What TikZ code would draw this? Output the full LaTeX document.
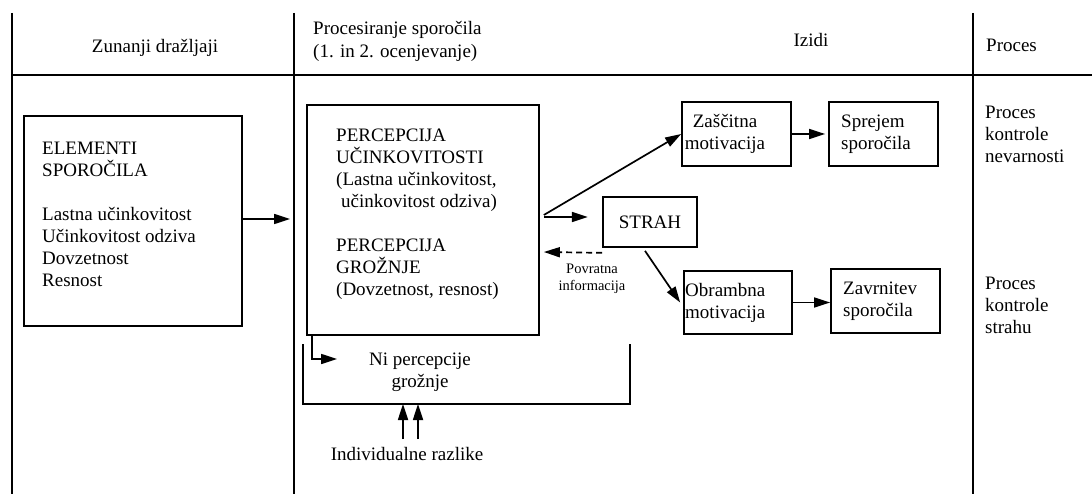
\documentclass[tikz,border=0pt]{standalone}
\usepackage{fontspec}
\setmainfont{Liberation Serif}
\usetikzlibrary{arrows.meta,calc}
\newcommand\bodyfont{\fontsize{19}{22}\selectfont}
\newcommand\smallfont{\fontsize{14.5}{17}\selectfont}
\begin{document}
\begin{tikzpicture}[x=1pt, y=-1pt, boxStyle/.style={rectangle, draw, line width=1.7pt, inner sep=0pt}, textStyle/.style={font=\bodyfont, align=left, inner sep=0pt}, arrowStyle/.style={-{Triangle[length=16pt,width=10pt]}, line width=1.7pt}, lineStyle/.style={line width=1.8pt}]
    \useasboundingbox (0,0) rectangle (1092,494);

    % table frame
    \draw[lineStyle] (12,13) -- (12,494);
    \draw[lineStyle] (294,13) -- (294,494);
    \draw[lineStyle] (973,13) -- (973,494);
    \draw[lineStyle] (12,75) -- (1092,75);

    % column heads
    \node[textStyle] (head_Zun)  at (155,48) {Zunanji dražljaji};
    \node[textStyle, anchor=west, font=\fontsize{19}{23}\selectfont] (head_Proc) at (313,41.5) {Procesiranje sporočila\\(1. in 2. ocenjevanje)};
    \node[textStyle] (head_Izi)  at (811,40) {Izidi};
    \node[textStyle, anchor=west] (head_Pro) at (986,45) {Proces};

    % boxes
    \node[boxStyle, minimum width=218pt, minimum height=210pt] (elem)    at (133,221)   {};
    \node[boxStyle, minimum width=232pt, minimum height=230pt] (main)    at (423,220)   {};
    \node[boxStyle, minimum width=94pt,  minimum height=50pt, font=\bodyfont] (strah) at (650,222) {STRAH};
    \node[boxStyle, minimum width=109pt, minimum height=64pt]  (zasc)    at (736.5,134) {};
    \node[boxStyle, minimum width=109pt, minimum height=64pt]  (sprejem) at (883.5,134) {};
    \node[boxStyle, minimum width=108pt, minimum height=63pt]  (obr)     at (738,302.5) {};
    \node[boxStyle, minimum width=109pt, minimum height=64pt]  (zavr)    at (885.5,301) {};

    % box texts
    \node[textStyle, anchor=west] (elem_T) at (42,214.5) {ELEMENTI\\SPOROČILA\\[22pt]Lastna učinkovitost\\Učinkovitost odziva\\Dovzetnost\\Resnost};
    \node[textStyle, anchor=west] (main_T) at (336,214.5) {PERCEPCIJA\\UČINKOVITOSTI\\(Lastna učinkovitost,\\\hspace{5pt}učinkovitost odziva)\\[22pt]PERCEPCIJA\\GROŽNJE\\(Dovzetnost, resnost)};
    \node[textStyle, align=center] (zasc_T) at (725,134) {Zaščitna\\motivacija};
    \node[textStyle, anchor=west] (sprejem_T) at (841,134) {Sprejem\\sporočila};
    \node[textStyle, anchor=west] (obr_T) at (685,303) {Obrambna\\motivacija};
    \node[textStyle, anchor=west] (zavr_T) at (843,301.5) {Zavrnitev\\sporočila};
    \node[textStyle, font=\smallfont, align=center] (povr_T) at (592,278.5) {Povratna\\informacija};
    \node[textStyle, align=center] (ni_T) at (420,372) {Ni percepcije\\grožnje};
    \node[textStyle] (indiv) at (407,454) {Individualne razlike};

    % right column
    \node[textStyle, anchor=west] (proc_S0) at (985,134.5) {Proces\\kontrole\\nevarnosti};
    \node[textStyle, anchor=west] (proc_S1) at (985,305) {Proces\\kontrole\\strahu};

    % arrows
    \coordinate (main_In) at (290,219);
    \coordinate (ni_In) at (337,359);
    \draw[arrowStyle] (elem.east |- main_In) -- (main_In);
    \draw[arrowStyle] ($(main.east)+(4,-5)$) -- (zasc.west);
    \draw[arrowStyle] ($(main.east)+(4,-3)$) -- ++(44,0);
    \draw[arrowStyle, dash pattern=on 6pt off 4pt] ($(strah.south west)+(0,5)$) -- ($(main.east)+(4,32)$);
    \draw[arrowStyle] ($(strah.south)+(-5,3)$) -- ($(obr.west)+(-3,0)$);
    \draw[arrowStyle, shorten >=3pt] (zasc.east) -- (sprejem.west);
    \draw[arrowStyle] (obr.east) -- (obr.east -| zavr.west);
    \draw[arrowStyle] ($(main.south west)+(6,0)$) |- (ni_In);

    % bracket under the box
    \draw[lineStyle] (303,344) -- (303,404) -- (630,404) -- (630,344);
    \draw[arrowStyle] (403,439) -- (403,404);
    \draw[arrowStyle] (418,439) -- (418,404);
\end{tikzpicture}
\end{document}
